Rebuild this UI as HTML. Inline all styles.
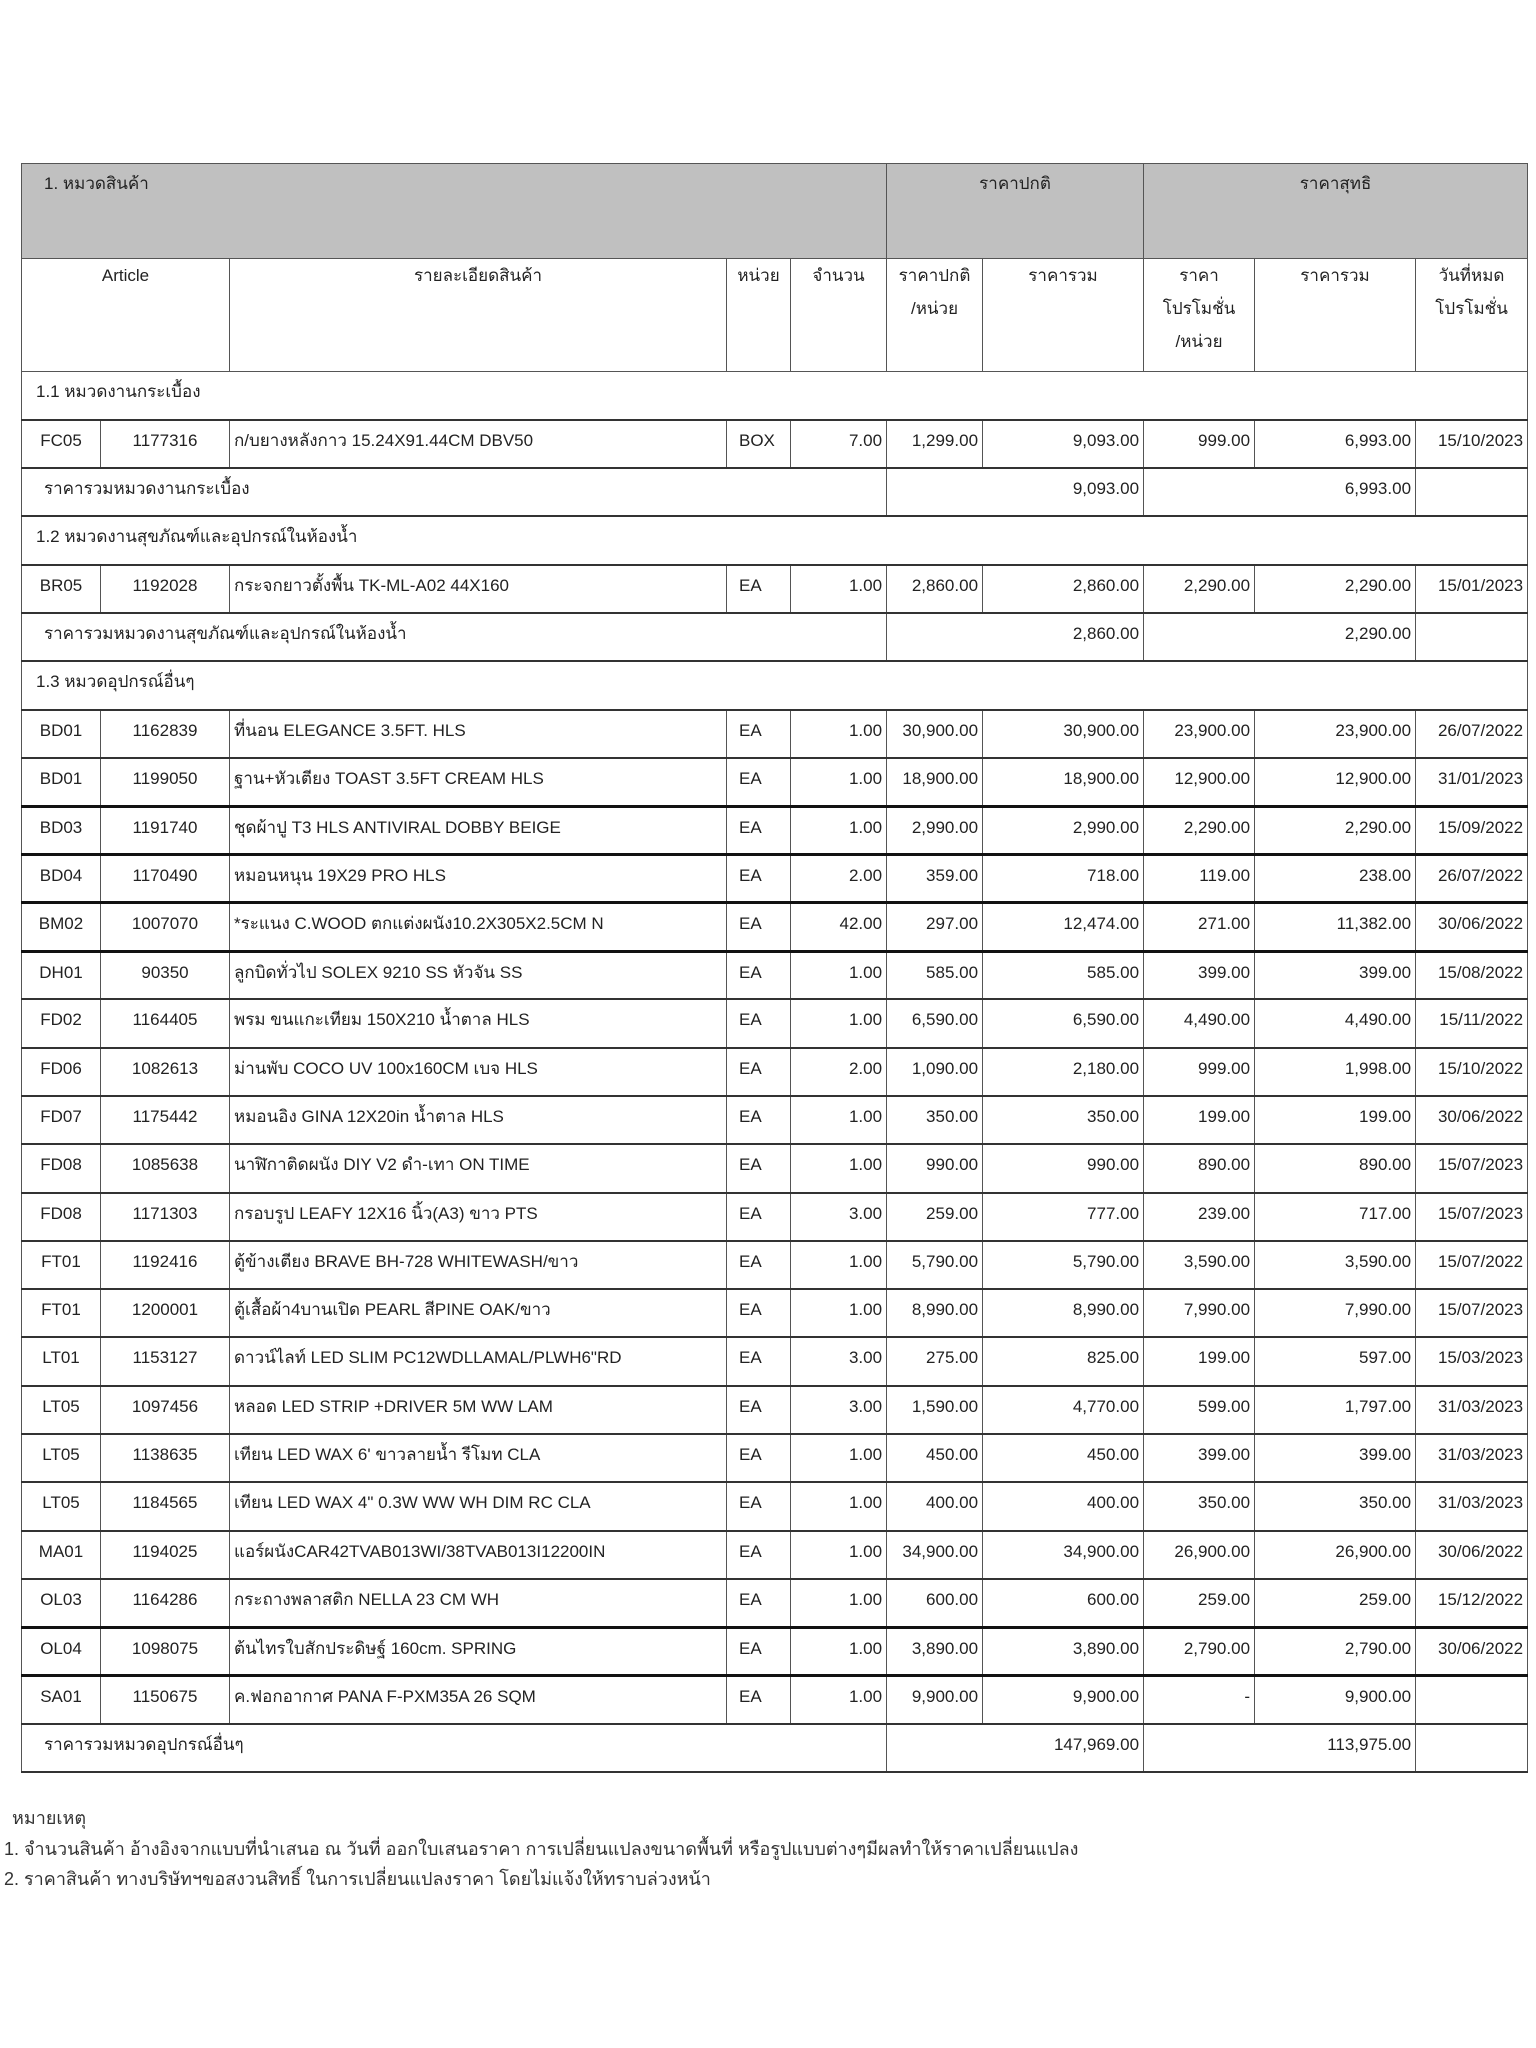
<!DOCTYPE html>
<html><head><meta charset="utf-8">
<style>
html,body{margin:0;padding:0;background:#fff;}
body{width:1536px;height:2048px;position:relative;font-family:"Liberation Sans","DejaVu Sans",sans-serif;color:#222;}
table{position:absolute;left:21px;top:163px;border-collapse:collapse;table-layout:fixed;width:1506px;font-size:17px;}
td{border:1px solid #555;padding:0 4px;vertical-align:top;line-height:22px;padding-top:9px;white-space:nowrap;overflow:hidden;box-sizing:border-box;}
tr.r td{height:48.3px;border-bottom:2px solid #333;}
tr.t td{border-bottom:3px solid #111;}
.g td{background:#c0c0c0;height:95px;}
.h td{height:113px;text-align:center;line-height:33px;padding-top:0;}
.c{text-align:center}.rt{text-align:right}.l{text-align:left}
.u{padding-left:12px}
.s{padding-left:14px}
.notes{position:absolute;left:12px;font-size:18px;color:#333;white-space:nowrap;}
</style></head><body>
<table>
<colgroup><col style="width:79px"><col style="width:129px"><col style="width:497px"><col style="width:64px"><col style="width:96px"><col style="width:96px"><col style="width:161px"><col style="width:111px"><col style="width:161px"><col style="width:112px"></colgroup>
<tr class="g"><td colspan="5" style="padding-left:22px">1. หมวดสินค้า</td><td colspan="2" class="c">ราคาปกติ</td><td colspan="3" class="c">ราคาสุทธิ</td></tr>
<tr class="h"><td colspan="2">Article</td><td>รายละเอียดสินค้า</td><td>หน่วย</td><td>จำนวน</td><td>ราคาปกติ<br>/หน่วย</td><td>ราคารวม</td><td>ราคา<br>โปรโมชั่น<br>/หน่วย</td><td>ราคารวม</td><td class="rt">วันที่หมด<br>โปรโมชั่น</td></tr>
<tr class="r"><td colspan="10" class="s">1.1 หมวดงานกระเบื้อง</td></tr>
<tr class="r"><td class="c">FC05</td><td class="c">1177316</td><td>ก/บยางหลังกาว 15.24X91.44CM DBV50</td><td class="u">BOX</td><td class="rt">7.00</td><td class="rt">1,299.00</td><td class="rt">9,093.00</td><td class="rt">999.00</td><td class="rt">6,993.00</td><td class="rt">15/10/2023</td></tr>
<tr class="r"><td colspan="5" style="padding-left:22px">ราคารวมหมวดงานกระเบื้อง</td><td colspan="2" class="rt">9,093.00</td><td colspan="2" class="rt">6,993.00</td><td></td></tr>
<tr class="r"><td colspan="10" class="s">1.2 หมวดงานสุขภัณฑ์และอุปกรณ์ในห้องน้ำ</td></tr>
<tr class="r"><td class="c">BR05</td><td class="c">1192028</td><td>กระจกยาวตั้งพื้น TK-ML-A02 44X160</td><td class="u">EA</td><td class="rt">1.00</td><td class="rt">2,860.00</td><td class="rt">2,860.00</td><td class="rt">2,290.00</td><td class="rt">2,290.00</td><td class="rt">15/01/2023</td></tr>
<tr class="r"><td colspan="5" style="padding-left:22px">ราคารวมหมวดงานสุขภัณฑ์และอุปกรณ์ในห้องน้ำ</td><td colspan="2" class="rt">2,860.00</td><td colspan="2" class="rt">2,290.00</td><td></td></tr>
<tr class="r"><td colspan="10" class="s">1.3 หมวดอุปกรณ์อื่นๆ</td></tr>
<tr class="r"><td class="c">BD01</td><td class="c">1162839</td><td>ที่นอน ELEGANCE 3.5FT. HLS</td><td class="u">EA</td><td class="rt">1.00</td><td class="rt">30,900.00</td><td class="rt">30,900.00</td><td class="rt">23,900.00</td><td class="rt">23,900.00</td><td class="rt">26/07/2022</td></tr>
<tr class="r t"><td class="c">BD01</td><td class="c">1199050</td><td>ฐาน+หัวเตียง TOAST 3.5FT CREAM HLS</td><td class="u">EA</td><td class="rt">1.00</td><td class="rt">18,900.00</td><td class="rt">18,900.00</td><td class="rt">12,900.00</td><td class="rt">12,900.00</td><td class="rt">31/01/2023</td></tr>
<tr class="r t"><td class="c">BD03</td><td class="c">1191740</td><td>ชุดผ้าปู T3 HLS ANTIVIRAL DOBBY BEIGE</td><td class="u">EA</td><td class="rt">1.00</td><td class="rt">2,990.00</td><td class="rt">2,990.00</td><td class="rt">2,290.00</td><td class="rt">2,290.00</td><td class="rt">15/09/2022</td></tr>
<tr class="r t"><td class="c">BD04</td><td class="c">1170490</td><td>หมอนหนุน 19X29 PRO HLS</td><td class="u">EA</td><td class="rt">2.00</td><td class="rt">359.00</td><td class="rt">718.00</td><td class="rt">119.00</td><td class="rt">238.00</td><td class="rt">26/07/2022</td></tr>
<tr class="r t"><td class="c">BM02</td><td class="c">1007070</td><td>*ระแนง C.WOOD ตกแต่งผนัง10.2X305X2.5CM N</td><td class="u">EA</td><td class="rt">42.00</td><td class="rt">297.00</td><td class="rt">12,474.00</td><td class="rt">271.00</td><td class="rt">11,382.00</td><td class="rt">30/06/2022</td></tr>
<tr class="r"><td class="c">DH01</td><td class="c">90350</td><td>ลูกบิดทั่วไป SOLEX 9210 SS หัวจัน SS</td><td class="u">EA</td><td class="rt">1.00</td><td class="rt">585.00</td><td class="rt">585.00</td><td class="rt">399.00</td><td class="rt">399.00</td><td class="rt">15/08/2022</td></tr>
<tr class="r"><td class="c">FD02</td><td class="c">1164405</td><td>พรม ขนแกะเทียม 150X210 น้ำตาล HLS</td><td class="u">EA</td><td class="rt">1.00</td><td class="rt">6,590.00</td><td class="rt">6,590.00</td><td class="rt">4,490.00</td><td class="rt">4,490.00</td><td class="rt">15/11/2022</td></tr>
<tr class="r"><td class="c">FD06</td><td class="c">1082613</td><td>ม่านพับ COCO UV 100x160CM เบจ HLS</td><td class="u">EA</td><td class="rt">2.00</td><td class="rt">1,090.00</td><td class="rt">2,180.00</td><td class="rt">999.00</td><td class="rt">1,998.00</td><td class="rt">15/10/2022</td></tr>
<tr class="r"><td class="c">FD07</td><td class="c">1175442</td><td>หมอนอิง GINA 12X20in น้ำตาล HLS</td><td class="u">EA</td><td class="rt">1.00</td><td class="rt">350.00</td><td class="rt">350.00</td><td class="rt">199.00</td><td class="rt">199.00</td><td class="rt">30/06/2022</td></tr>
<tr class="r"><td class="c">FD08</td><td class="c">1085638</td><td>นาฬิกาติดผนัง DIY V2 ดำ-เทา ON TIME</td><td class="u">EA</td><td class="rt">1.00</td><td class="rt">990.00</td><td class="rt">990.00</td><td class="rt">890.00</td><td class="rt">890.00</td><td class="rt">15/07/2023</td></tr>
<tr class="r"><td class="c">FD08</td><td class="c">1171303</td><td>กรอบรูป LEAFY 12X16 นิ้ว(A3) ขาว PTS</td><td class="u">EA</td><td class="rt">3.00</td><td class="rt">259.00</td><td class="rt">777.00</td><td class="rt">239.00</td><td class="rt">717.00</td><td class="rt">15/07/2023</td></tr>
<tr class="r"><td class="c">FT01</td><td class="c">1192416</td><td>ตู้ข้างเตียง BRAVE BH-728 WHITEWASH/ขาว</td><td class="u">EA</td><td class="rt">1.00</td><td class="rt">5,790.00</td><td class="rt">5,790.00</td><td class="rt">3,590.00</td><td class="rt">3,590.00</td><td class="rt">15/07/2022</td></tr>
<tr class="r"><td class="c">FT01</td><td class="c">1200001</td><td>ตู้เสื้อผ้า4บานเปิด PEARL สีPINE OAK/ขาว</td><td class="u">EA</td><td class="rt">1.00</td><td class="rt">8,990.00</td><td class="rt">8,990.00</td><td class="rt">7,990.00</td><td class="rt">7,990.00</td><td class="rt">15/07/2023</td></tr>
<tr class="r"><td class="c">LT01</td><td class="c">1153127</td><td>ดาวน์ไลท์ LED SLIM PC12WDLLAMAL/PLWH6"RD</td><td class="u">EA</td><td class="rt">3.00</td><td class="rt">275.00</td><td class="rt">825.00</td><td class="rt">199.00</td><td class="rt">597.00</td><td class="rt">15/03/2023</td></tr>
<tr class="r"><td class="c">LT05</td><td class="c">1097456</td><td>หลอด LED STRIP +DRIVER 5M WW LAM</td><td class="u">EA</td><td class="rt">3.00</td><td class="rt">1,590.00</td><td class="rt">4,770.00</td><td class="rt">599.00</td><td class="rt">1,797.00</td><td class="rt">31/03/2023</td></tr>
<tr class="r"><td class="c">LT05</td><td class="c">1138635</td><td>เทียน LED WAX 6' ขาวลายน้ำ รีโมท CLA</td><td class="u">EA</td><td class="rt">1.00</td><td class="rt">450.00</td><td class="rt">450.00</td><td class="rt">399.00</td><td class="rt">399.00</td><td class="rt">31/03/2023</td></tr>
<tr class="r"><td class="c">LT05</td><td class="c">1184565</td><td>เทียน LED WAX 4" 0.3W WW WH DIM RC CLA</td><td class="u">EA</td><td class="rt">1.00</td><td class="rt">400.00</td><td class="rt">400.00</td><td class="rt">350.00</td><td class="rt">350.00</td><td class="rt">31/03/2023</td></tr>
<tr class="r"><td class="c">MA01</td><td class="c">1194025</td><td>แอร์ผนังCAR42TVAB013WI/38TVAB013I12200IN</td><td class="u">EA</td><td class="rt">1.00</td><td class="rt">34,900.00</td><td class="rt">34,900.00</td><td class="rt">26,900.00</td><td class="rt">26,900.00</td><td class="rt">30/06/2022</td></tr>
<tr class="r t"><td class="c">OL03</td><td class="c">1164286</td><td>กระถางพลาสติก NELLA 23 CM WH</td><td class="u">EA</td><td class="rt">1.00</td><td class="rt">600.00</td><td class="rt">600.00</td><td class="rt">259.00</td><td class="rt">259.00</td><td class="rt">15/12/2022</td></tr>
<tr class="r t"><td class="c">OL04</td><td class="c">1098075</td><td>ต้นไทรใบสักประดิษฐ์ 160cm. SPRING</td><td class="u">EA</td><td class="rt">1.00</td><td class="rt">3,890.00</td><td class="rt">3,890.00</td><td class="rt">2,790.00</td><td class="rt">2,790.00</td><td class="rt">30/06/2022</td></tr>
<tr class="r"><td class="c">SA01</td><td class="c">1150675</td><td>ค.ฟอกอากาศ PANA F-PXM35A 26 SQM</td><td class="u">EA</td><td class="rt">1.00</td><td class="rt">9,900.00</td><td class="rt">9,900.00</td><td class="rt">-</td><td class="rt">9,900.00</td><td></td></tr>
<tr class="r"><td colspan="5" style="padding-left:22px">ราคารวมหมวดอุปกรณ์อื่นๆ</td><td colspan="2" class="rt">147,969.00</td><td colspan="2" class="rt">113,975.00</td><td></td></tr>
</table>
<div class="notes" style="top:1803px;">หมายเหตุ</div>
<div class="notes" style="top:1834px;left:4px;">1. จำนวนสินค้า อ้างอิงจากแบบที่นำเสนอ ณ วันที่ ออกใบเสนอราคา การเปลี่ยนแปลงขนาดพื้นที่ หรือรูปแบบต่างๆมีผลทำให้ราคาเปลี่ยนแปลง</div>
<div class="notes" style="top:1864px;left:4px;">2. ราคาสินค้า ทางบริษัทฯขอสงวนสิทธิ์ ในการเปลี่ยนแปลงราคา โดยไม่แจ้งให้ทราบล่วงหน้า</div>
</body></html>
